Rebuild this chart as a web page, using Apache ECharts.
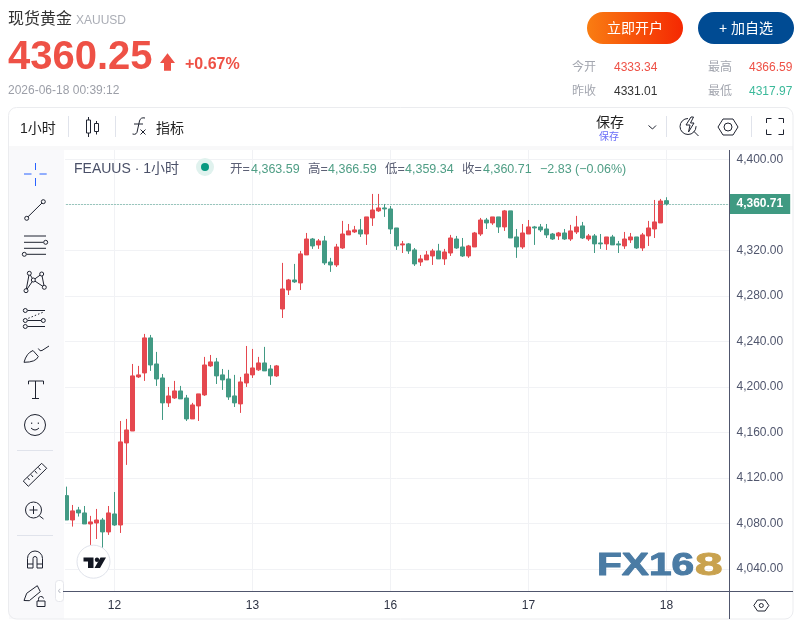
<!DOCTYPE html>
<html style="height: 100%">
<head>
    <meta charset="utf-8">
    <script src="https://cdn.jsdelivr.net/npm/echarts@6/dist/echarts.min.js"></script>
</head>
<body style="height: 100%; margin: 0; background: #fff">
    <div id="container" style="width: 803px; height: 621px"></div>
    <script type="text/javascript">
        var myChart = echarts.init(document.getElementById('container'));

        // colours
        const upColor = '#e5484f', downColor = '#429a84', lastColor = '#3f9a82';
        const headRed = '#ee5146', textGray = '#a3a6af', ink = '#1f2330', axisInk = '#50566d', sepColor = '#e0e3eb';
        const sans = '"Liberation Sans","Noto Sans CJK SC"';

        // hourly candles
        const opens = [
            4104.4, 4083.0, 4091.8, 4089.2, 4079.5, 4080.4, 4083.0, 4072.5, 4088.3, 4078.6,
            4150.7, 4161.2, 4208.7, 4212.2, 4243.0, 4220.1, 4207.8, 4185.9, 4190.2, 4196.4,
            4190.2, 4171.8, 4183.2, 4192.9, 4218.4, 4221.9, 4210.5, 4206.9, 4192.0, 4185.0,
            4203.4, 4210.5, 4214.9, 4221.0, 4215.7, 4209.6, 4268.4, 4285.1, 4293.9, 4291.3,
            4315.9, 4329.9, 4324.7, 4328.2, 4309.7, 4307.1, 4322.0, 4333.5, 4336.1, 4337.9,
            4334.3, 4348.4, 4354.6, 4357.2, 4356.3, 4339.6, 4324.7, 4325.6, 4320.3, 4309.7,
            4311.5, 4315.0, 4319.4, 4312.4, 4317.6, 4329.9, 4322.9, 4315.0, 4322.9, 4334.3,
            4346.6, 4344.0, 4349.3, 4340.5, 4354.6, 4331.7, 4322.9, 4334.3, 4340.5, 4340.5,
            4338.7, 4334.3, 4332.6, 4335.2, 4329.9, 4336.1, 4341.4, 4329.9, 4332.6, 4326.4,
            4325.6, 4331.7, 4325.6, 4323.8, 4329.1, 4331.7, 4322.0, 4332.6, 4338.7, 4344.0, 4363.59
        ];
        const closes = [
            4083.0, 4091.0, 4089.2, 4079.5, 4081.3, 4083.0, 4072.5, 4089.2, 4078.6, 4151.6,
            4162.1, 4209.6, 4210.5, 4243.0, 4219.2, 4206.9, 4185.9, 4192.0, 4196.4, 4189.4,
            4171.8, 4184.1, 4193.8, 4219.2, 4221.9, 4209.6, 4206.1, 4191.1, 4185.9, 4204.3,
            4211.3, 4216.6, 4221.0, 4214.0, 4209.6, 4218.4, 4286.0, 4293.9, 4292.2, 4316.8,
            4329.9, 4323.8, 4328.2, 4308.9, 4307.1, 4322.9, 4334.3, 4337.0, 4337.9, 4334.3,
            4349.3, 4355.4, 4357.2, 4356.3, 4338.7, 4323.8, 4325.6, 4319.4, 4308.0, 4312.4,
            4315.9, 4319.4, 4312.4, 4318.5, 4330.8, 4322.0, 4315.0, 4323.8, 4335.2, 4346.6,
            4344.0, 4349.3, 4340.5, 4354.6, 4330.8, 4322.9, 4335.2, 4340.5, 4339.6, 4337.9,
            4333.5, 4329.9, 4335.2, 4329.9, 4337.0, 4340.5, 4330.8, 4332.6, 4325.6, 4325.6,
            4331.7, 4324.7, 4324.7, 4329.9, 4331.7, 4322.0, 4333.5, 4339.6, 4344.9, 4363.3, 4360.71
        ];
        const lows = [
            4083.0, 4077.2, 4086.0, 4079.5, 4061.1, 4066.3, 4058.1, 4069.9, 4077.8, 4071.6,
            4131.4, 4161.2, 4207.8, 4205.2, 4214.0, 4200.8, 4170.9, 4182.3, 4189.4, 4189.4,
            4170.0, 4171.8, 4170.0, 4192.0, 4217.5, 4202.5, 4197.3, 4188.5, 4182.3, 4177.1,
            4199.9, 4207.8, 4214.0, 4214.0, 4201.7, 4208.7, 4260.5, 4280.7, 4291.3, 4285.1,
            4315.9, 4321.2, 4321.2, 4307.1, 4301.0, 4305.3, 4321.2, 4333.5, 4335.2, 4331.7,
            4324.7, 4341.4, 4353.7, 4349.3, 4334.3, 4320.3, 4317.6, 4316.8, 4306.2, 4306.2,
            4311.5, 4307.1, 4312.4, 4307.1, 4315.0, 4321.2, 4314.1, 4313.3, 4322.9, 4332.6,
            4338.7, 4342.3, 4335.2, 4337.0, 4330.8, 4313.3, 4321.2, 4334.3, 4324.7, 4336.1,
            4330.8, 4329.1, 4329.1, 4329.1, 4328.2, 4334.3, 4329.9, 4328.2, 4317.6, 4321.2,
            4320.3, 4324.7, 4317.6, 4321.2, 4326.4, 4321.2, 4319.4, 4323.8, 4330.8, 4344.0, 4359.34
        ];
        const highs = [
            4112.3, 4096.2, 4094.5, 4095.3, 4086.6, 4092.7, 4084.8, 4095.3, 4107.6, 4170.0,
            4171.8, 4220.1, 4218.4, 4246.5, 4245.6, 4230.7, 4211.3, 4199.9, 4205.2, 4200.8,
            4192.9, 4185.9, 4193.8, 4226.3, 4228.0, 4225.4, 4215.7, 4214.9, 4210.5, 4208.7,
            4235.9, 4233.3, 4226.3, 4235.1, 4219.2, 4219.2, 4308.9, 4294.8, 4308.0, 4319.4,
            4335.2, 4330.8, 4329.9, 4332.6, 4313.3, 4325.6, 4345.8, 4343.1, 4341.4, 4347.5,
            4349.3, 4369.5, 4369.5, 4360.7, 4358.9, 4339.6, 4328.2, 4326.4, 4322.0, 4315.9,
            4319.4, 4321.2, 4325.6, 4321.2, 4333.5, 4332.6, 4330.8, 4324.7, 4336.1, 4348.4,
            4348.4, 4349.3, 4349.3, 4355.4, 4354.6, 4338.7, 4343.1, 4346.6, 4341.4, 4343.1,
            4343.1, 4335.2, 4336.1, 4338.7, 4342.3, 4350.2, 4344.9, 4334.3, 4334.3, 4334.3,
            4331.7, 4333.5, 4328.2, 4336.1, 4335.2, 4331.7, 4335.2, 4345.8, 4364.2, 4365.1, 4366.59
        ];

        const lastPrice = 4360.71;
        const emptyBars = 10;                        // blank space right of the last candle
        const dayLabels = ['12', '13', '16', '17', '18'];
        const dayIndexes = [8, 31, 54, 77, 100];     // candle index where each day starts
        const priceTicks = [4040, 4080, 4120, 4160, 4200, 4240, 4280, 4320, 4360, 4400];

        const categories = [];
        for (let i = 0; i < opens.length + emptyBars; i++) categories.push(String(i));
        const candles = opens.map(function (o, i) { return [o, closes[i], lows[i], highs[i]]; });

        // helpers for the page furniture around the chart
        function T(text, x, y, size, fill, extra) {
            return {
                type: 'text', z: 100, silent: true,
                style: Object.assign({
                    // 'middle' sits a little high with these fonts
                    text: text, x: x, y: y + size * 0.08 + 0.5, fill: fill, font: size + 'px ' + sans,
                    textAlign: 'left', textVerticalAlign: 'middle', align: 'left', verticalAlign: 'middle'
                }, extra || {})
            };
        }
        function B(text, x, y, size, fill, extra) {
            return T(text, x, y, size, fill, Object.assign({ font: 'bold ' + size + 'px ' + sans }, extra || {}));
        }
        // the graphic component has no plain path type, so each svg path gets registered as a shape
        var pathCount = 0;
        function P(d, stroke, fill, width, dash) {
            const name = 'icon' + (pathCount++);
            echarts.graphic.registerShape(name, echarts.graphic.extendPath(d, {}));
            return {
                type: name, z: 100, silent: true,
                style: { stroke: stroke || ink, fill: fill || 'none', lineWidth: width || 1, lineDash: dash || null }
            };
        }
        function R(x, y, w, h, r, fill, stroke) {
            return {
                type: 'rect', z: 99, silent: true, shape: { x: x, y: y, width: w, height: h, r: r },
                style: { fill: fill || 'none', stroke: stroke || 'none', lineWidth: 1 }
            };
        }
        function C(cx, cy, r, stroke, fill) {
            return {
                type: 'circle', z: 101, silent: true, shape: { cx: cx, cy: cy, r: r },
                style: { stroke: stroke || ink, fill: fill || '#f9f9fb', lineWidth: 1 }
            };
        }
        function O(cx, cy, r) {
            return { type: 'circle', z: 100, silent: true, shape: { cx: cx, cy: cy, r: r }, style: { stroke: ink, fill: 'none', lineWidth: 1 } };
        }
        function hexagon(cx, cy, w, h) {
            const a = w / 2, b = w / 4, c = h / 2;
            return 'M' + (cx - a) + ' ' + cy + 'L' + (cx - b) + ' ' + (cy - c) + 'H' + (cx + b) +
                'L' + (cx + a) + ' ' + cy + 'L' + (cx + b) + ' ' + (cy + c) + 'H' + (cx - b) + 'Z';
        }

        const furniture = [
            // card and panels
            R(64, 150, 1, 441, 0, '#fff'),
            R(9, 150, 55, 469, 0, '#f9f9fb'),
            R(9, 146, 784, 4, 0, '#f8f8f9'),
            R(8.5, 107.5, 784.5, 511.5, 8, 'none', '#ebecef'),
            R(55.5, 580.5, 8, 21, 3, '#fff', '#e6e7ec'),
            T('‹', 57.5, 590, 11, '#b8bbc4'),

            // quote header
            T('现货黄金', 8, 18, 16, '#333'),
            T('XAUUSD', 76, 19, 12, '#aaadb5'),
            B('4360.25', 8, 54, 40, headRed),
            P('M167.5 53.3L175 63H171V70.7H164V63H160Z', 'none', headRed),
            B('+0.67%', 185, 63, 16, headRed),
            T('2026-06-18 00:39:12', 8, 89, 12, '#9c9fa8'),

            // buttons
            {
                type: 'rect', z: 99, silent: true, shape: { x: 587, y: 12, width: 96, height: 32, r: 16 },
                style: { fill: { type: 'linear', x: 0, y: 0, x2: 1, y2: 0, colorStops: [
                    { offset: 0, color: '#f97d12' }, { offset: 1, color: '#f52802' }] } }
            },
            T('立即开户', 635, 28, 14, '#fff', { textAlign: 'center', align: 'center' }),
            R(698, 12, 96, 32, 16, '#004b93'),
            T('+ 加自选', 746, 28, 14, '#fff', { textAlign: 'center', align: 'center' }),

            // day stats
            T('今开', 572, 66, 12, textGray), T('4333.34', 614, 66, 12, headRed),
            T('最高', 708, 66, 12, textGray), T('4366.59', 749, 66, 12, headRed),
            T('昨收', 572, 90, 12, textGray), T('4331.01', 614, 90, 12, '#333'),
            T('最低', 708, 90, 12, textGray), T('4317.97', 749, 90, 12, '#3bb99a'),

            // top toolbar
            T('1小时', 20, 128, 14, '#222'),
            P('M68.5 116V137M115.5 116V137', sepColor),
            P('M88.5 117V120M88.5 133V137M86.5 120H90.5V133H86.5ZM96.5 121V123.5M96.5 131.5V134.5M94.5 123.5H98.5V131.5H94.5Z', ink),
            P('M132.5 134Q137 135.5 137.5 130L139.5 121Q140.5 117 145 118M134 124H143M140.5 129.5L145.5 134.5M145.5 129.5L140.5 134.5', ink),
            T('指标', 156, 128, 14, '#222'),
            T('保存', 596, 122, 14, '#222'),
            T('保存', 599, 136, 10, '#6a6ef8'),
            P('M648.5 125.5L652.5 129L656 125.5', ink),
            P('M666.5 116V137M751.5 116V137', sepColor),
            P('M688 118.5A8 8 0 1 0 696 126M691 117L686 125H690L688.5 132L694 123H690.5L693.5 117ZM694 131.5L698.5 136', ink),
            P(hexagon(728, 127, 20, 16), ink), O(728, 127, 4),
            P('M766.5 123V118.5H771.5M778.5 118.5H783.5V123M783.5 129.5V134.5H778.5M771.5 134.5H766.5V129.5', ink),

            // chart legend line
            T('FEAUUS · 1小时', 74, 168, 14, '#4a5068'),
            { type: 'circle', z: 100, silent: true, shape: { cx: 205, cy: 167, r: 9 }, style: { fill: '#e0f2ee' } },
            { type: 'circle', z: 100, silent: true, shape: { cx: 205, cy: 167, r: 4 }, style: { fill: '#089981' } },
            T('开=', 230, 168, 12.5, '#5c6075'), T('4,363.59', 251, 168, 12.5, '#4f9e85'),
            T('高=', 308, 168, 12.5, '#5c6075'), T('4,366.59', 328, 168, 12.5, '#4f9e85'),
            T('低=', 385, 168, 12.5, '#5c6075'), T('4,359.34', 405, 168, 12.5, '#4f9e85'),
            T('收=', 462, 168, 12.5, '#5c6075'), T('4,360.71', 483, 168, 12.5, '#4f9e85'),
            T('−2.83 (−0.06%)', 540, 168, 12.5, '#4f9e85'),

            // left drawing tools
            P('M24 174H31.5M39.5 174H46.7M35.5 163V170M35.5 178V186', '#2962ff'),
            P('M28 216.8L42 203', ink), C(26.7, 218.3, 2), C(43.3, 201.7, 2),
            P('M24 236H46M24 242.3H43.5M24 248.3H46M26.5 254.3H46', ink), C(45.7, 242.3, 2), C(24.3, 254.3, 2),
            P('M29.3 273.3L26 290.7M29.3 273.3L33.3 280L26 290.7M33.3 280L41.7 274L44.3 287.3L33.3 280', ink),
            C(29.3, 273.3, 2), C(41.7, 274, 2), C(33.3, 280, 2), C(26, 290.7, 2), C(44.3, 287.3, 2),
            P('M27.5 310.5H45M27.5 320.5H41M27.5 326.5H45', ink),
            P('M28.3 318.3L44.3 311.7', ink, 'none', 1, [1.5, 2]),
            C(25.3, 310.5, 2), C(25.3, 320.5, 2), C(25.3, 326.5, 2), C(43.3, 320.5, 2),
            P('M24 362.3Q26.5 353 33 350.5L38.3 356.5Q36 362.3 24 362.3ZM38.3 348.5Q40 352 42 350.5L49 346', ink),
            P('M28.5 384.3V381H43.5V384.3M35.5 381V398.5M32 398.5H39', ink),
            O(35, 425, 10.5),
            P('M31.7 422.5V424M38.3 422.5V424M31 428Q35 432 39 428', ink),
            P('M17 450.5H53M17 535.5H53', sepColor),
            P('M23.3 481L41.7 463.3L46.7 468.3L28.3 486.3ZM27.5 477.5L29.5 480M31 474.5L33 477M35 471L37 473.5M38.5 467.5L40.5 470', ink),
            O(33.5, 510, 8),
            P('M39.3 515.8L43.5 519M33.5 506V514M29.5 510H37.5', ink),
            P('M27.5 568V558.5A7.5 7.5 0 0 1 42.5 558.5V568H37V558.5A2 2 0 0 0 33 558.5V568ZM27.5 564H33M37 564H42.5', ink),
            P('M24 600.5L26.7 593.3L37.3 585.7L40.3 591.7L29.3 600.7Z', ink),
            P('M37 601H45V606.5H37ZM38.5 601V599.5A2.5 2.5 0 0 1 43.5 598.5', ink),

            // price axis and time axis frame
            P('M729.5 150V619M63 591.5H793', axisInk),
            P(hexagon(761.3, 605.5, 15, 11), ink),
            O(761.3, 605.5, 2),

            // TradingView badge
            { type: 'circle', z: 100, silent: true, shape: { cx: 93.5, cy: 561.7, r: 16.5 }, style: { fill: '#fff', stroke: '#e0e3eb', lineWidth: 1 } },
            P('M83.5 557.5H93.5V568H88V561.5H83.5ZM106 557.5L100 568H94.5L100.5 557.5Z', 'none', '#131722'),
            { type: 'circle', z: 101, silent: true, shape: { cx: 97, cy: 559.7, r: 2.2 }, style: { fill: '#131722' } },

            // FX168 watermark
            {
                type: 'text', z: 90, silent: true, x: 597, y: 566, scaleX: 1.27, scaleY: 1,
                style: { text: 'FX16', x: 0, y: 0, font: 'bold 32px "Liberation Sans"', fill: '#4a7ba4', stroke: '#4a7ba4', lineWidth: 1,
                    shadowColor: 'rgba(40,40,40,0.45)', shadowBlur: 2, shadowOffsetX: 1, shadowOffsetY: 1,
                    textAlign: 'left', textVerticalAlign: 'middle', align: 'left', verticalAlign: 'middle' }
            },
            {
                type: 'text', z: 90, silent: true, x: 695, y: 566, scaleX: 1.55, scaleY: 1,
                style: { text: '8', x: 0, y: 0, font: 'bold 32px "Liberation Sans"', fill: '#c9a24e', stroke: '#c9a24e', lineWidth: 1,
                    shadowColor: 'rgba(40,40,40,0.45)', shadowBlur: 2, shadowOffsetX: 1, shadowOffsetY: 1,
                    textAlign: 'left', textVerticalAlign: 'middle', align: 'left', verticalAlign: 'middle' }
            }
        ];

        var option = {
            backgroundColor: '#fff',
            animation: false,
            grid: { left: 63.5, right: 73.5, top: 150, bottom: 30 },
            xAxis: {
                type: 'category',
                data: categories,
                axisLine: { show: false },
                axisTick: { show: false, alignWithLabel: true },
                axisLabel: {
                    interval: function (i) { return dayIndexes.indexOf(i) >= 0; },
                    formatter: function (v, i) { return dayLabels[dayIndexes.indexOf(i)] || ''; },
                    color: '#2f3445', fontSize: 12, fontFamily: 'Liberation Sans', margin: 9
                },
                splitLine: {
                    show: true,
                    alignWithLabel: true,
                    interval: function (i) { return dayIndexes.indexOf(i) >= 0; },
                    lineStyle: { color: '#f1f2f5', width: 1 }
                }
            },
            yAxis: {
                type: 'value',
                position: 'right',
                min: 4020.6,
                max: 4408.1,
                axisLine: { show: false },
                axisTick: { show: false, customValues: priceTicks },
                axisLabel: {
                    customValues: priceTicks,
                    formatter: function (v) { return v.toLocaleString('en-US', { minimumFractionDigits: 2 }); },
                    color: '#50566d', fontSize: 12, fontFamily: 'Liberation Sans', margin: 7
                },
                splitLine: { show: true, lineStyle: { color: '#f1f2f5', width: 1 } }
            },
            series: [{
                type: 'candlestick',
                data: candles,
                barWidth: 5,
                itemStyle: { color: upColor, color0: downColor, borderColor: upColor, borderColor0: downColor, borderWidth: 1 },
                markLine: {
                    silent: true,
                    symbol: 'none',
                    animation: false,
                    data: [{ yAxis: lastPrice }],
                    lineStyle: { type: [1, 2], color: lastColor, width: 1 },
                    label: {
                        show: true,
                        position: 'end',
                        distance: 0,
                        formatter: '4,360.71',
                        backgroundColor: lastColor,
                        color: '#fff',
                        fontWeight: 'bold',
                        fontSize: 12,
                        fontFamily: 'Liberation Sans',
                        padding: [4, 7, 4, 7]
                    }
                }
            }],
            graphic: { elements: furniture }
        };

        myChart.setOption(option);
        window.addEventListener('resize', function() { myChart.resize(); });
    </script>
</body>
</html>
